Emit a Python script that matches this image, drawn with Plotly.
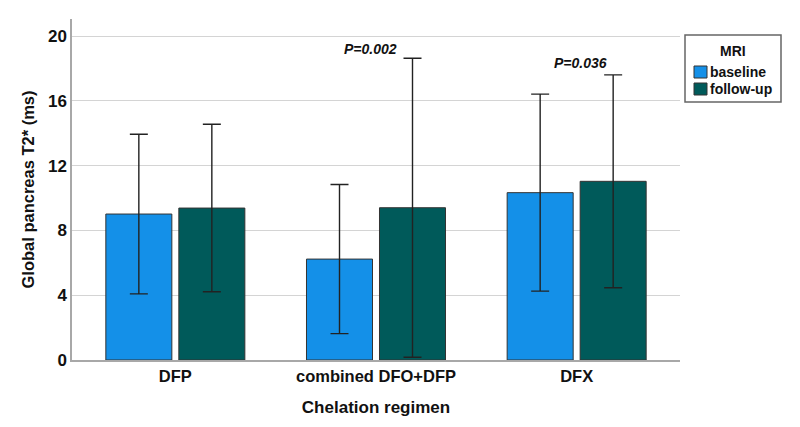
import plotly.graph_objects as go

categories = ["DFP", "combined DFO+DFP", "DFX"]
baseline = [9.01, 6.23, 10.33]
baseline_err = [4.93, 4.60, 6.08]
followup = [9.38, 9.40, 11.03]
followup_err = [5.17, 9.23, 6.57]
y_ticks = [0, 4, 8, 12, 16, 20]
p_labels = ["P=0.002", "P=0.036"]
series_names = ["baseline", "follow-up"]
series_colors = ["#1490E8", "#005A5A"]

FONT = "Liberation Sans, Arial, sans-serif"
BW = 0.329

# plot area in screen pixels (for paper-coordinate conversion of the legend box)
PL, PR, PT, PB = 72, 680, 19, 360
def px(x):
    return (x - PL) / (PR - PL)
def py(y):
    return (PB - y) / (PB - PT)

fig = go.Figure()
for name, vals, errs, col, off in [
    (series_names[0], baseline, baseline_err, series_colors[0], -BW - 0.0174),
    (series_names[1], followup, followup_err, series_colors[1], 0.0174),
]:
    fig.add_trace(go.Bar(
        x=categories, y=vals, name=name,
        width=BW, offset=off,
        marker=dict(color=col, line=dict(color="#333333", width=1)),
        error_y=dict(type="data", array=errs, visible=True,
                     color="#222222", thickness=1.4, width=9),
    ))

fig.add_annotation(x=1.114, y=19.2, text="<b><i>" + p_labels[0] + "</i></b>",
                   showarrow=False, xanchor="right", yanchor="middle",
                   font=dict(family=FONT, size=14, color="#111111"))
fig.add_annotation(x=1.877, y=18.33, text="<b><i>" + p_labels[1] + "</i></b>",
                   showarrow=False, xanchor="left", yanchor="middle",
                   font=dict(family=FONT, size=14, color="#111111"))

# custom legend box
fig.add_shape(type="rect", xref="paper", yref="paper",
              x0=px(685), x1=px(781), y0=py(102), y1=py(35),
              line=dict(color="#666666", width=1.5), fillcolor="white")
fig.add_annotation(xref="paper", yref="paper", x=px(733), y=py(51),
                   text="<b>MRI</b>", showarrow=False,
                   xanchor="center", yanchor="middle",
                   font=dict(family=FONT, size=14, color="#111111"))
for i, (name, col) in enumerate(zip(series_names, series_colors)):
    yc = 72 + i * 17
    fig.add_shape(type="rect", xref="paper", yref="paper",
                  x0=px(694), x1=px(707), y0=py(yc + 6), y1=py(yc - 6),
                  line=dict(color="#333333", width=1), fillcolor=col)
    fig.add_annotation(xref="paper", yref="paper", x=px(708), y=py(yc),
                       text="<b>" + name + "</b>", showarrow=False,
                       xanchor="left", yanchor="middle",
                       font=dict(family=FONT, size=14, color="#111111"))

fig.update_layout(
    width=800, height=427,
    margin=dict(l=64, r=128, t=11, b=75),
    plot_bgcolor="white", paper_bgcolor="white",
    barmode="overlay", showlegend=False,
    font=dict(family=FONT, color="#111111"),
    xaxis=dict(
        type="category", range=[-0.515, 2.515],
        showline=True, linecolor="#a8a8a8", linewidth=1.5,
        showgrid=False, ticks="",
        tickfont=dict(family=FONT, size=16.5, color="#111111", weight="bold"),
        title=dict(text="<b>Chelation regimen</b>", standoff=18,
                   font=dict(family=FONT, size=17, color="#111111")),
    ),
    yaxis=dict(
        range=[0, 21.05], tickvals=y_ticks,
        showline=True, linecolor="#a8a8a8", linewidth=1.5,
        showgrid=True, gridcolor="#d4d4d4", gridwidth=1.2,
        zeroline=False, ticks="",
        tickfont=dict(family=FONT, size=17, color="#111111", weight="bold"),
        title=dict(text="<b>Global pancreas T2* (ms)</b>", standoff=9,
                   font=dict(family=FONT, size=16.5, color="#111111")),
    ),
)

fig.write_html("out.html")
